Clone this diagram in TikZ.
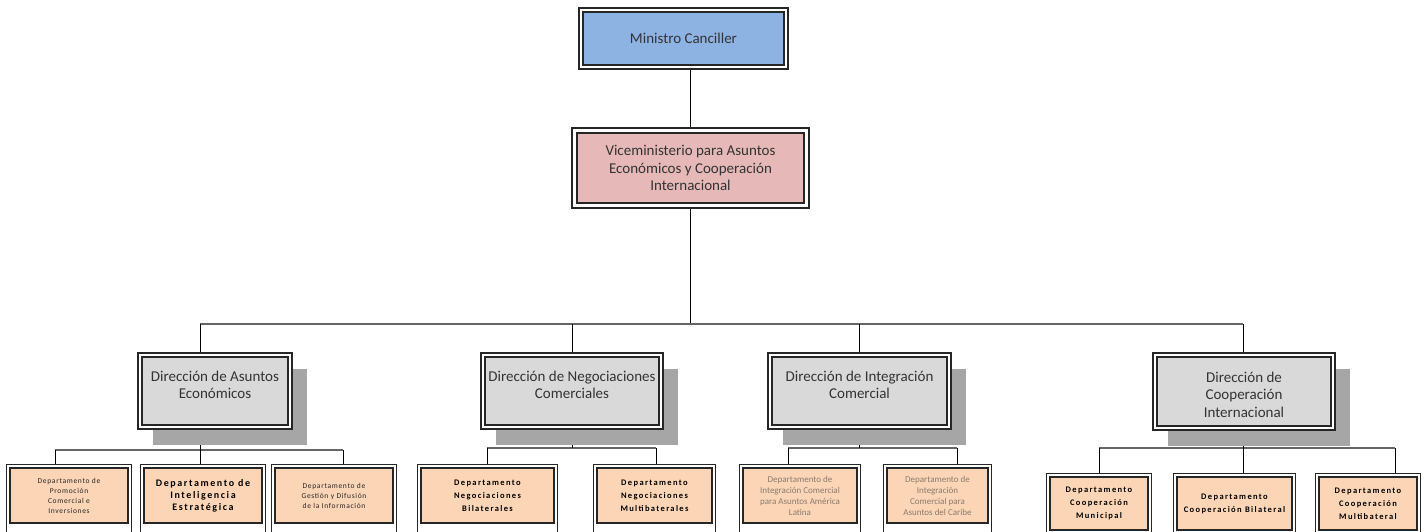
\documentclass[tikz,border=0pt]{standalone}
\usepackage{fontspec}
\setmainfont{Carlito}
\newfontfamily\deptbold{Carlito}[LetterSpace=16]
\newfontfamily\deptlight{Carlito}[LetterSpace=9]
\usetikzlibrary{calc}
\definecolor{minblue}{HTML}{8DB3E2}
\definecolor{vicepink}{HTML}{E6B9B8}
\definecolor{dirgray}{HTML}{D9D9D9}
\definecolor{shadegray}{HTML}{A6A6A6}
\definecolor{deptpeach}{HTML}{FBD5B5}
\definecolor{faintink}{HTML}{8A7B6E}
\pgfdeclarelayer{paper}
\pgfdeclarelayer{wires}
\pgfdeclarelayer{shades}
\pgfdeclarelayer{frames}
\pgfsetlayers{paper,wires,shades,frames,main}
\tikzset{
  every node/.style={inner sep=0pt, outer sep=0pt},
  topbox/.style={draw=black!85, line width=1.8pt, minimum width=#1},
  dirbox/.style={draw=black!85, line width=1.5pt, fill=dirgray, minimum width=#1, minimum height=68},
  deptbox/.style={draw=black!85, line width=1.8pt, fill=deptpeach, minimum width=#1, minimum height=55},
  deptboxlow/.style={draw=black!85, line width=1.8pt, fill=deptpeach, minimum width=#1, minimum height=53},
  bigtext/.style={align=center, text=black!80, font=\fontsize{15}{17.5}\selectfont},
  boldtext/.style={align=center, font=\deptbold\bfseries\fontsize{8.5}{13}\selectfont},
  boldtextB/.style={align=center, font=\deptbold\bfseries\fontsize{10}{12}\selectfont},
  lighttext/.style={align=center, text=black!85, font=\deptlight\fontsize{7.5}{10}\selectfont},
  fainttext/.style={align=center, text=faintink, font=\fontsize{9}{11}\selectfont},
  outerline/.style={draw=black!85, line width=1.1pt, fill=white},
  busline/.style={draw=black!60, line width=1.6pt},
  dropline/.style={draw=black, line width=1pt},
}
% closed double frame around a node
\newcommand\closedframe[2]{%
  \begin{pgfonlayer}{frames}
    \path[outerline] ($(#1.north west)+(-#2,-#2)$) rectangle ($(#1.south east)+(#2,#2)$);
  \end{pgfonlayer}}
% double frame open at the lower page edge
\newcommand\openframe[2]{%
  \begin{pgfonlayer}{frames}
    \path[outerline] ($(#1.south west)+(-#2,12)$) |- ($(#1.north east)+(#2,-#2)$) -- ($(#1.south east)+(#2,12)$);
  \end{pgfonlayer}}
% drop shadow behind a director box
\newcommand\dropshade[1]{%
  \begin{pgfonlayer}{shades}
    \fill[shadegray] ($(#1.north west)+(11,12)$) rectangle ($(#1.south east)+(19,20)$);
  \end{pgfonlayer}}

\begin{document}
\begin{tikzpicture}[x=1pt, y=-1pt]
\begin{pgfonlayer}{paper}
  \fill[white] (0,0) rectangle (1425,531);
\end{pgfonlayer}
\useasboundingbox (0,0) rectangle (1425,531);

% ---- top levels
\node[topbox=201, minimum height=53, fill=minblue, bigtext] (min) at (683.5,38.5) {Ministro Canciller};
\closedframe{min}{4}
\node[topbox=227, minimum height=70, fill=vicepink, bigtext] (vice) at (690.5,168)
  {Viceministerio para Asuntos\\Económicos y Cooperación\\Internacional};
\closedframe{vice}{5}

% ---- directorates
\node[dirbox=146] (dae) at (215,391) {};
\node[dirbox=174] (dnc) at (572,391) {};
\node[dirbox=175] (dic) at (859.5,391) {};
\node[dirbox=174, minimum height=69] (dci) at (1244,391.5) {};
\foreach \n in {dae,dnc,dic,dci} {\closedframe{\n}{4}\dropshade{\n}}
\node[bigtext] (daeT) at ($(dae.center)+(0,-6)$) {Dirección de Asuntos\\Económicos};
\node[bigtext] (dncT) at ($(dnc.center)+(0,-6)$) {Dirección de Negociaciones\\Comerciales};
\node[bigtext] (dicT) at ($(dic.center)+(0,-6)$) {Dirección de Integración\\Comercial};
\node[bigtext] (dciT) at ($(dci.center)+(0,3)$) {Dirección de\\Cooperación\\Internacional};

% ---- departments
\node[deptbox=118, lighttext] (pa) at (69,495.5) {Departamento de\\Promoción\\Comercial e\\Inversiones};
\node[deptbox=118, boldtextB] (pb) at (203,495.5) {Departamento de\\Inteligencia\\Estratégica};
\node[deptbox=118, lighttext] (pc) at (334,495.5) {Departamento de\\Gestión y Difusión\\de la Información};
\node[deptbox=133, boldtext] (na) at (487.5,495.5) {Departamento\\Negociaciones\\Bilaterales};
\node[deptbox=115, boldtext] (nb) at (654.5,495.5) {Departamento\\Negociaciones\\Multibaterales};
\node[deptbox=114, fainttext] (ia) at (800,495.5) {Departamento de\\Integración Comercial\\para Asuntos América\\Latina};
\node[deptbox=101, fainttext] (ib) at (937.5,495.5) {Departamento de\\Integración\\Comercial para\\Asuntos del Caribe};
\node[deptboxlow=98, boldtext] (ca) at (1099,503.5) {Departamento\\Cooperación\\Municipal};
\node[deptboxlow=115, boldtext] (cb) at (1234.5,503.5) {Departamento\\Cooperación Bilateral};
\node[deptboxlow=98, boldtext] (cc) at (1368,503.5) {Departamento\\Cooperación\\Multibateral};
\foreach \n in {pa,pb,pc,na,nb,ia,ib,ca,cb,cc} {\openframe{\n}{3.5}}

% ---- connectors
\coordinate (busL) at (200,324);
\coordinate (busR) at (1243,324);
\coordinate (g1L) at (55,450);  \coordinate (g1M) at (200,450); \coordinate (g1R) at (343,450);
\coordinate (g2L) at (487,448); \coordinate (g2M) at (572,448); \coordinate (g2R) at (656,448);
\coordinate (g3L) at (788,448); \coordinate (g3M) at (859,448); \coordinate (g3R) at (957,448);
\coordinate (g4L) at (1099,448);\coordinate (g4M) at (1243,448);\coordinate (g4R) at (1395,448);
\begin{pgfonlayer}{wires}
  \draw[dropline] (vice.north) -- (vice.north |- min.south);
  \draw[dropline] (vice.south) -- (vice.south |- busL);
  \draw[busline] (busL) -- (busR);
  \draw[dropline] (busL) -- (busL |- dae.north);
  \draw[dropline] (dnc.north |- busL) -- (dnc.north);
  \draw[dropline] (dic.north |- busL) -- (dic.north);
  \draw[dropline] (busR) -- (busR |- dci.north);
  \draw[busline] (g1L) -- (g1R);
  \draw[busline] (g2L) -- (g2R);
  \draw[busline] (g3L) -- (g3R);
  \draw[busline] (g4L) -- (g4R);
  \draw[dropline] (g1M) -- (g1M |- dae.south);
  \draw[dropline] (g2M) -- (g2M |- dnc.south);
  \draw[dropline] (g3M) -- (g3M |- dic.south);
  \draw[dropline] (g4M) -- (g4M |- dci.south);
  \draw[dropline] (g1L) -- (g1L |- pa.north);
  \draw[dropline] (g1M) -- (g1M |- pb.north);
  \draw[dropline] (g1R) -- (g1R |- pc.north);
  \draw[dropline] (g2L) -- (g2L |- na.north);
  \draw[dropline] (g2R) -- (g2R |- nb.north);
  \draw[dropline] (g3L) -- (g3L |- ia.north);
  \draw[dropline] (g3R) -- (g3R |- ib.north);
  \draw[dropline] (g4L) -- (g4L |- ca.north);
  \draw[dropline] (g4M) -- (g4M |- cb.north);
  \draw[dropline] (g4R) -- (g4R |- cc.north);
\end{pgfonlayer}
\end{tikzpicture}
\end{document}
